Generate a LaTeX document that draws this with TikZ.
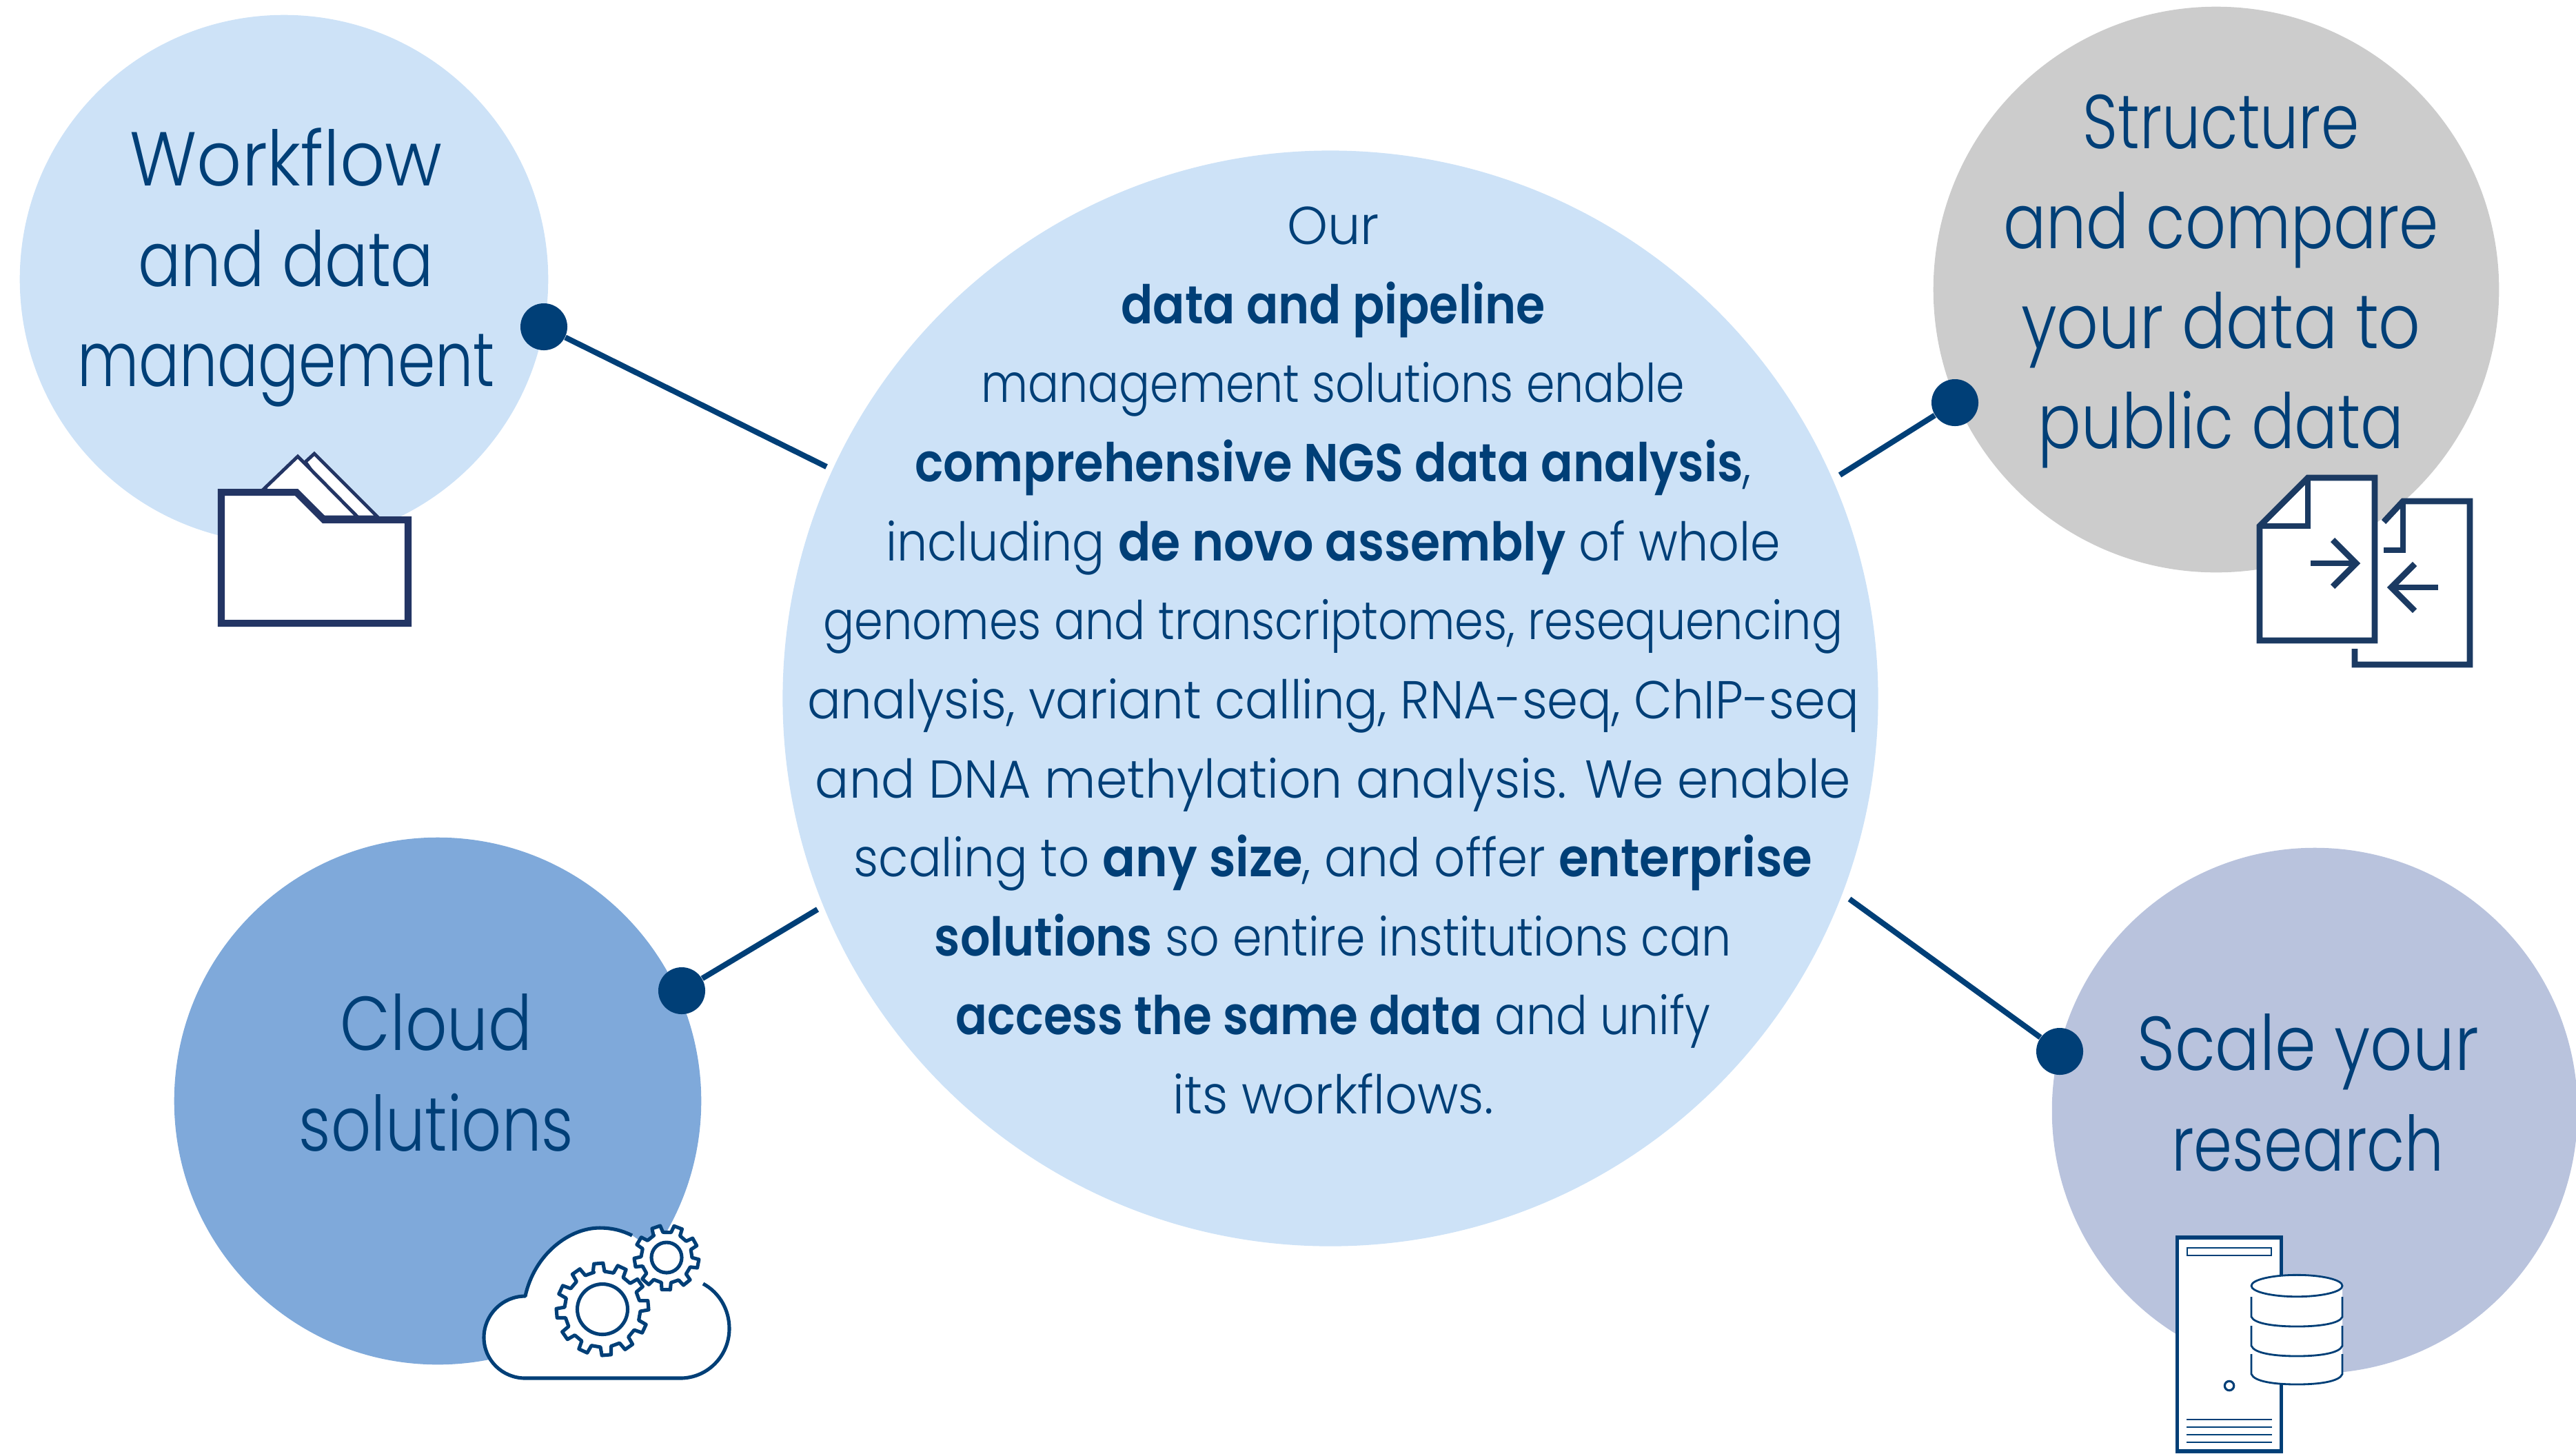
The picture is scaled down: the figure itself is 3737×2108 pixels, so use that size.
\documentclass[tikz,border=0pt]{standalone}
\usepackage{graphicx}
\usepackage{fontspec}
\setmainfont{Poppins Light}[BoldFont={Poppins SemiBold},FakeStretch=0.88]
\definecolor{ink}{HTML}{003F77}
\definecolor{lightblue}{HTML}{CDE2F7}
\definecolor{midblue}{HTML}{7FA9DA}
\definecolor{greyfill}{HTML}{CCCCCC}
\definecolor{lavender}{HTML}{B9C3DD}
\definecolor{foldernavy}{HTML}{233564}
\definecolor{docnavy}{HTML}{1B3A62}
\newcommand{\ww}[2]{\resizebox{#1pt}{\height}{#2}}
\tikzset{
  x=0.01cm,y=-0.01cm,
  disc/.style={circle,inner sep=0pt,minimum size=#1*0.02cm},
  dot/.style={circle,fill=ink,inner sep=0pt,minimum size=0.68cm},
  link/.style={draw=ink,line width=2.3pt},
  title/.style={text=ink,align=center,font=\fontsize{31.5}{41.3}\selectfont},
  body/.style={text=ink,align=center,font=\fontsize{22}{32.6}\selectfont},
  folderline/.style={draw=foldernavy,fill=white,line join=miter},
  docline/.style={draw=docnavy,line width=2.5pt,line join=miter},
  iconline/.style={draw=ink,fill=white,line width=1.45pt,line join=round},
  thinline/.style={draw=ink,line width=0.8pt},
}
\newcommand{\gearpath}[6]{% cx,cy,teeth,phase,tip radius,root radius
  \pgfmathsetmacro{\gp}{360/#3}
  \path[iconline,shift={(#1,#2)}] (#4-\gp/4-2:#6)
  \foreach \k in {1,...,#3}{
    -- ({#4+(\k-1)*\gp-\gp*0.19}:#5) -- ({#4+(\k-1)*\gp+\gp*0.19}:#5)
    -- ({#4+(\k-1)*\gp+\gp*0.27}:#6) -- ({#4+\k*\gp-\gp*0.27}:#6)
  } -- cycle;
}
\begin{document}
\begin{tikzpicture}
\useasboundingbox (0,0) rectangle (3737,2108);
% circles
\node[disc=383,fill=lightblue] (cworkflow) at (412,405) {};
\node[disc=410,fill=greyfill] (cstructure) at (3215,420) {};
\node[disc=382,fill=midblue] (ccloud) at (635,1597) {};
\node[disc=381,fill=lavender] (cscale) at (3358,1611) {};
\node[disc=794,fill=lightblue] (ccentre) at (1930,1013) {};
% connectors
\coordinate (e1) at (1199,677);
\coordinate (e2) at (2669,689);
\coordinate (e3) at (1186,1319);
\coordinate (e4) at (2683,1304);
\node[dot] (d1) at (789,474) {};
\node[dot] (d2) at (2836,584) {};
\node[dot] (d3) at (989,1437) {};
\node[dot] (d4) at (2988,1525) {};
\draw[link] (e1) -- (d1);
\draw[link] (e2) -- (d2);
\draw[link] (e3) -- (d3);
\draw[link] (e4) -- (d4);
% texts
\node[title] (tworkflow) at (415,388) {\ww{128.8}{Workflow}\\\ww{122}{and data}\\\ww{172.2}{management}};
\node[title] (tstructure) at (3222,408) {\ww{113.9}{Structure}\\\ww{179.7}{and compare}\\\ww{164.8}{your data to}\\\ww{151.2}{public data}};
\node[title] (tcloud) at (633,1556) {\ww{79.3}{Cloud}\\\ww{113.2}{solutions}};
\node[title] (tscale) at (3348,1585) {\ww{141}{Scale your}\\\ww{112.5}{research}};
\node[body] (tcentre) at (1934,958) {\ww{38}{Our}\\\ww{174.9}{\textbf{data and pipeline}}\\\ww{290.2}{management solutions enable}\\\ww{345.1}{\textbf{comprehensive NGS data analysis},}\\\ww{368.8}{including \textbf{de novo assembly} of whole}\\\ww{420.4}{genomes and transcriptomes, resequencing}\\\ww{433.9}{analysis, variant calling, RNA-seq, ChIP-seq}\\\ww{427.1}{and DNA methylation analysis. We enable}\\\ww{395.3}{scaling to \textbf{any size}, and offer \textbf{enterprise}}\\\ww{328.8}{\textbf{solutions} so entire institutions can}\\\ww{311.2}{\textbf{access the same data} and unify}\\\ww{132.2}{its workflows.}};
% folder icon
\draw[folderline,line width=1.4pt] (443,670) -- (456,658) -- (548,750) -- (500,750) -- cycle;
\draw[folderline,line width=1.4pt] (383,709) -- (432,662) -- (519,750) -- (470,750) -- cycle;
\draw[folderline,line width=2.85pt] (321,714) -- (430,714) -- (470,754) -- (592,754) -- (592,904) -- (321,904) -- cycle;
% documents icon
\fill[white] (3486,727) -- (3583,727) -- (3583,964) -- (3416,964) -- (3416,800) -- (3458,757) -- cycle;
\draw[docline] (3458,757) -- (3486,727) -- (3583,727) -- (3583,964) -- (3416,964) -- (3416,941);
\draw[docline] (3486,727) -- (3486,798) -- (3458,798);
\draw[docline,fill=white] (3348,693) -- (3445,693) -- (3445,929) -- (3278,929) -- (3278,763) -- cycle;
\draw[docline] (3348,693) -- (3348,763) -- (3278,763);
\draw[docline] (3352,817) -- (3418,817);
\draw[docline] (3384,783) -- (3418,817) -- (3384,851);
\draw[docline] (3537,852) -- (3470,852);
\draw[docline] (3503,818) -- (3469,852) -- (3503,886);
% cloud icon
\fill[white] (762,1880) .. controls (775,1820) and (825,1781) .. (870,1781) .. controls (888,1781) and (903,1785) .. (917,1792) -- (1020,1862) .. controls (1044,1875) and (1058,1900) .. (1058,1927) .. controls (1058,1967) and (1026,1999) .. (987,1999) -- (762,1999) .. controls (729,1999) and (702,1973) .. (702,1940) .. controls (702,1907) and (729,1880) .. (762,1880) -- cycle;
\draw[iconline,fill=none] (917,1792) .. controls (903,1785) and (888,1781) .. (870,1781) .. controls (825,1781) and (775,1820) .. (762,1880) .. controls (729,1880) and (702,1907) .. (702,1940) .. controls (702,1973) and (729,1999) .. (762,1999) -- (987,1999) .. controls (1026,1999) and (1058,1967) .. (1058,1927) .. controls (1058,1900) and (1044,1875) .. (1020,1862);
\gearpath{874}{1899}{12}{-95}{67}{55}
\draw[iconline] (874,1899) circle [radius=36.5];
\gearpath{967}{1824}{9}{-109}{47}{37}
\draw[iconline] (967,1824) circle [radius=22];
% server icon
\draw[draw=ink,fill=white,line width=1.45pt] (3158,1795) rectangle (3309,2105);
\draw[thinline] (3173,1810) rectangle (3295,1821);
\draw[draw=ink,line width=0.9pt] (3234,2010) circle [radius=6.7];
\draw[thinline] (3172,2059) -- (3296,2059);
\draw[thinline] (3172,2070) -- (3296,2070);
\draw[thinline] (3172,2081) -- (3296,2081);
\draw[thinline] (3172,2092) -- (3296,2092);
\fill[white] (3266,1865) -- (3398,1865) -- (3398,1993) .. controls (3394,2003) and (3364,2008) .. (3332,2008) .. controls (3300,2008) and (3270,2003) .. (3266,1993) -- cycle;
\draw[thinline,fill=white] (3332,1865) ellipse [x radius=66,y radius=15.7];
\foreach \ya/\yb/\yc in {1881/1910/1924,1923/1952/1967,1964/1993/2008}{
  \draw[thinline] (3266,\ya) -- (3266,\yb) .. controls (3270,\yc-4) and (3300,\yc) .. (3332,\yc) .. controls (3364,\yc) and (3394,\yc-4) .. (3398,\yb) -- (3398,\ya);
}
\end{tikzpicture}
\end{document}
